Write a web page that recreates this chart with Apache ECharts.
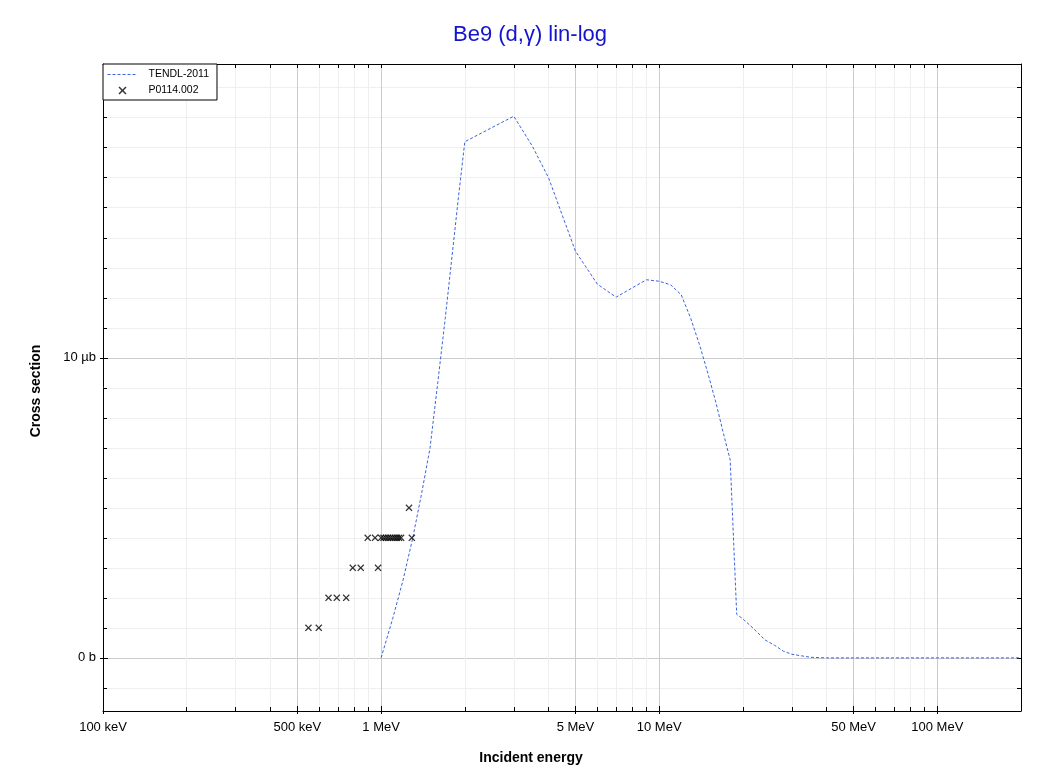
<!DOCTYPE html>
<html><head><meta charset="utf-8">
<script src="https://cdn.jsdelivr.net/npm/echarts@6/dist/echarts.min.js"></script>
<style>html,body{margin:0;padding:0;background:#fff}#c{width:1047px;height:774px}</style>
</head><body><div id="c"></div>
<script>
// TENDL-2011 evaluated curve (energy in MeV, cross section in µb)
const tendlEnergy = [1.0,1.1,1.2,1.3,1.4,1.5,1.6,1.7,1.8,1.9,2.0,3.0,3.5,4.0,5.0,6.0,7.0,8.0,9.0,10.0,11.0,12.0,13.0,14.0,15.0,16.0,17.0,18.0,19.0,20.0,22.0,24.0,26.0,28.0,30.0,35.0,40.0,50.0,60.0,80.0,100.0,150.0,200.0];
const tendlXs = [0,1.3,2.6,4.0,5.5,7.0,9.2,11.3,13.4,15.4,17.2,18.05,17.05,16.0,13.55,12.45,12.02,12.33,12.6,12.55,12.43,12.1,11.3,10.4,9.45,8.5,7.5,6.6,1.45,1.3,0.95,0.6,0.42,0.22,0.12,0.02,0,0,0,0,0,0,0];
// EXFOR P0114.002 points
const expEnergy = [0.548,0.597,0.647,0.693,0.749,0.791,0.845,0.895,0.951,0.975,1.00,1.02,1.04,1.06,1.08,1.10,1.12,1.14,1.16,1.18,1.26,1.29];
const expXs = [1,1,2,2,2,3,3,4,4,3,4,4,4,4,4,4,4,4,4,4,5,4];
// axis ticks
const xLabelValues = [0.1,0.5,1,5,10,50,100];
const xLabelTexts = ['100 keV','500 keV','1 MeV','5 MeV','10 MeV','50 MeV','100 MeV'];
const xMinorValues = [0.2,0.3,0.4,0.6,0.7,0.8,0.9,2,3,4,6,7,8,9,20,30,40,60,70,80,90];
const yLabelValues = [0,10];
const yLabelTexts = ['0 b','10 µb'];
const yMinorValues = [-1,1,2,3,4,5,6,7,8,9,11,12,13,14,15,16,17,18,19];

const FONT = "'Liberation Sans', Arial, sans-serif";
const xMin = 0.1, xMax = 200, yMin = -1.77, yMax = 19.79;

function labelFor(vals, texts, v) {
  let best = -1, bd = Infinity;
  vals.forEach((x, i) => {
    const dd = (x === 0 || v === 0) ? Math.abs(x - v) : Math.abs(Math.log10(Math.abs(x)) - Math.log10(Math.abs(v)));
    if (dd < bd) { bd = dd; best = i; }
  });
  return bd < 0.01 ? texts[best] : '';
}

const allX = xLabelValues.concat(xMinorValues);
const allY = yLabelValues.concat(yMinorValues);
const crossPath = 'path://M0,1.3L1.3,0L5,3.7L8.7,0L10,1.3L6.3,5L10,8.7L8.7,10L5,6.3L1.3,10L0,8.7L3.7,5Z';

function xAx(extra) {
  return Object.assign({
    type: 'log', logBase: 10, min: xMin, max: xMax, gridIndex: 0,
    axisLine: { show: false, onZero: false }, axisTick: { show: false }, axisLabel: { show: false },
    splitLine: { show: false }, minorTick: { show: false }, minorSplitLine: { show: false }
  }, extra);
}
function yAx(extra) {
  return Object.assign({
    type: 'value', min: yMin, max: yMax, gridIndex: 0,
    axisLine: { show: false, onZero: false }, axisTick: { show: false }, axisLabel: { show: false },
    splitLine: { show: false }
  }, extra);
}

const chart = echarts.init(document.getElementById('c'), null, { renderer: 'canvas' });
chart.setOption({
  animation: false,
  backgroundColor: '#fff',
  textStyle: { fontFamily: FONT },
  grid: { left: 103, right: 26, top: 64, bottom: 63, containLabel: false },
  legend: {
    orient: 'vertical', left: 103, top: 64, z: 10,
    backgroundColor: '#fff', borderColor: '#000', borderWidth: 1, borderRadius: 0,
    padding: [5, 8, 4, 4], itemGap: 5, itemWidth: 30, itemHeight: 8,
    textStyle: { fontFamily: FONT, fontSize: 10.5, color: '#000', padding: [0, 0, 0, 6] },
    data: [
      { name: 'TENDL-2011', itemStyle: { opacity: 0 }, lineStyle: { width: 1, type: [3, 2], color: '#3b63e0' } },
      { name: 'P0114.002', icon: crossPath }
    ]
  },
  xAxis: [
    xAx({ position: 'bottom',
      axisLine: { show: true, onZero: false, lineStyle: { color: '#000', width: 1 } },
      axisTick: { show: true, customValues: xMinorValues, inside: true, length: 4, lineStyle: { color: '#000' } },
      axisLabel: { show: true, customValues: xLabelValues, margin: 10, fontSize: 13, color: '#000', fontFamily: FONT,
        formatter: v => labelFor(xLabelValues, xLabelTexts, v) },
      splitLine: { show: true, lineStyle: { color: '#efefef', width: 1 } } }),
    xAx({ position: 'bottom',
      axisTick: { show: true, customValues: xLabelValues, inside: true, length: 5, lineStyle: { color: '#000' } },
      splitLine: { show: true, lineStyle: { color: '#cccccc', width: 1 } } }),
    xAx({ position: 'bottom',
      axisTick: { show: true, customValues: xLabelValues, inside: false, length: 3, lineStyle: { color: '#000' } } }),
    xAx({ position: 'top',
      axisLine: { show: true, onZero: false, lineStyle: { color: '#000', width: 1 } },
      axisTick: { show: true, customValues: allX, inside: true, length: 4, lineStyle: { color: '#000' } } })
  ],
  yAxis: [
    yAx({ position: 'left',
      axisLine: { show: true, onZero: false, lineStyle: { color: '#000', width: 1 } },
      axisTick: { show: true, customValues: yMinorValues, inside: true, length: 4, lineStyle: { color: '#000' } },
      axisLabel: { show: true, customValues: yLabelValues, margin: 7, fontSize: 13, color: '#000', fontFamily: FONT,
        formatter: v => labelFor(yLabelValues, yLabelTexts, v) },
      splitLine: { show: true, lineStyle: { color: '#efefef', width: 1 } } }),
    yAx({ position: 'left',
      axisTick: { show: true, customValues: yLabelValues, inside: true, length: 5, lineStyle: { color: '#000' } },
      splitLine: { show: true, lineStyle: { color: '#cccccc', width: 1 } } }),
    yAx({ position: 'left',
      axisTick: { show: true, customValues: yLabelValues, inside: false, length: 3, lineStyle: { color: '#000' } } }),
    yAx({ position: 'right',
      axisLine: { show: true, onZero: false, lineStyle: { color: '#000', width: 1 } },
      axisTick: { show: true, customValues: allY, inside: true, length: 4, lineStyle: { color: '#000' } } })
  ],
  graphic: [
    { type: 'text', x: 530, y: 35, silent: true, style: { text: 'Be9 (d,γ) lin-log', fill: '#1414cc', font: '22px ' + FONT, textAlign: 'center', textVerticalAlign: 'middle' } },
    { type: 'text', x: 531, y: 758.5, silent: true, style: { text: 'Incident energy', fill: '#000', font: 'bold 14px ' + FONT, textAlign: 'center', textVerticalAlign: 'middle' } },
    { type: 'text', x: 36, y: 391, rotation: Math.PI / 2, silent: true, style: { text: 'Cross section', fill: '#000', font: 'bold 14px ' + FONT, textAlign: 'center', textVerticalAlign: 'middle' } }
  ],
  series: [
    { name: 'TENDL-2011', type: 'line', xAxisIndex: 0, yAxisIndex: 0, z: 3,
      data: tendlEnergy.map((e, i) => [e, tendlXs[i]]),
      symbol: 'none', showSymbol: false, smooth: false,
      lineStyle: { color: '#3b63e0', width: 1, type: [3, 2] }, itemStyle: { color: '#3b63e0' } },
    { name: 'P0114.002', type: 'scatter', xAxisIndex: 0, yAxisIndex: 0, z: 4,
      data: expEnergy.map((e, i) => [e, expXs[i]]),
      symbol: crossPath, symbolSize: 7, itemStyle: { color: '#000' } }
  ]
});
</script>
</body></html>
